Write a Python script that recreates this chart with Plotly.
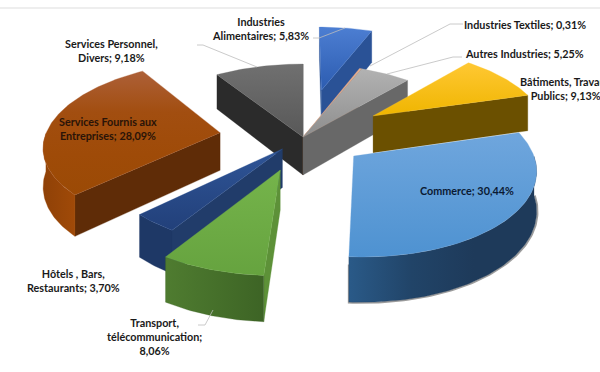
import numpy as np
import plotly.graph_objects as go

# Data, clockwise from 12 o'clock
categories = ["Industries Alimentaires", "Industries Textiles", "Autres Industries",
              "Bâtiments, Travaux Publics", "Commerce", "Transport, télécommunication",
              "Hôtels , Bars, Restaurants", "Services Fournis aux Entreprises",
              "Services Personnel, Divers"]
values = [5.83, 0.31, 5.25, 9.13, 30.44, 8.06, 3.70, 28.09, 9.18]
pull = [109, 0, 0, 86, 63, 70, 32, 84, 0]

# Styles: top gradient (near ... far), arc side (left ... right), cut side colour
top_colors = [("#2c5cb0", "#4c7ed2"), ("#d99a78", "#e6ae8e"), ("#8e8e8e", "#b2b2b2"),
              ("#efb500", "#ffc833"), ("#4e92d1", "#6fa6dd"), ("#66a33f", "#75b44b"),
              ("#22407a", "#2f5597"), ("#9b4a05", "#9f4b08", "#a24e10", "#ad6038"),
              ("#585858", "#707070")]
arc_colors = [("#2a4f90", "#2a4f90"), ("#b06a40", "#b06a40"), ("#5f5f5f", "#6a6a6a"),
              ("#6b5000", "#6b5000"), ("#2a5a88", "#214468", "#1e3a5a", "#1e3a5a"),
              ("#4f7c30", "#3d6425"), ("#1e3866", "#1e3866"), ("#8f4107", "#a04a08"),
              ("#2e2e2e", "#333333")]
cut_colors = ["#2a5296", "#a05a30", "#686868", "#6b5000", "#1f3c5e", "#5d9138",
              "#213c6a", "#5f2c07", "#2b2b2b"]
draw_order = [0, 8, 1, 2, 3, 7, 6, 5, 4]
shadowed = [4]

# View model of the tilted, exploded pie
CX, CY, R, D, TILT, H = 303, 137, 175, 1347, 0.471, 38


def project(x, y, lift=0.0):
    s = D / (D + y)
    return CX + x * s, CY - TILT * y * s + lift * s


edges = 360 * np.cumsum([0] + values) / sum(values)
fig = go.Figure()

# Pale rule along the top of the picture
fig.add_shape(type="line", xref="paper", yref="y", x0=0, x1=1, y0=8, y1=8,
              line=dict(color="#e8e8e8", width=1.5))


def add_poly(xs, ys, color=None, grad=None, orient="vertical"):
    kw = {}
    if grad:
        stops = np.linspace(0, 1, len(grad))
        kw["fillgradient"] = dict(type=orient, colorscale=[[float(s), c] for s, c in zip(stops, grad)])
    else:
        kw["fillcolor"] = color
    fig.add_trace(go.Scatter(x=list(xs) + [xs[0]], y=list(ys) + [ys[0]], mode="lines",
                             fill="toself", line=dict(width=0.3, color=color or grad[-1]),
                             hoverinfo="skip", showlegend=False, **kw))


for i in draw_order:
    a0, a1 = np.radians(edges[i]), np.radians(edges[i + 1])
    mid = (a0 + a1) / 2
    tx, ty = pull[i] * np.sin(mid), pull[i] * np.cos(mid)
    th = np.linspace(a0, a1, max(6, int(np.degrees(a1 - a0))))
    ax, ay = tx + R * np.sin(th), ty + R * np.cos(th)

    # soft edge under the slice
    if i in shadowed:
        sel = np.cos(th) < 0
        sx, sy = (tx + (R + 0.8) * np.sin(th))[sel], (ty + (R + 0.8) * np.cos(th))[sel]
        sp = [project(x, y, H) for x, y in zip(sx, sy)]
        sp.append((sp[-1][0], sp[-1][1] - H))
        fig.add_trace(go.Scatter(x=[q[0] for q in sp], y=[q[1] for q in sp], mode="lines",
                                 line=dict(color="rgba(105,105,105,0.65)", width=2),
                                 hoverinfo="skip", showlegend=False))

    # cut faces facing the viewer
    if np.cos(a0 - np.pi / 2) < 0.05:
        xs = [tx, ax[0], ax[0], tx]
        ys = [ty, ay[0], ay[0], ty]
        p = [project(x, y, l) for x, y, l in zip(xs, ys, [0, 0, H, H])]
        add_poly([q[0] for q in p], [q[1] for q in p], color=cut_colors[i])
    if np.cos(a1 + np.pi / 2) < 0.05:
        xs = [tx, ax[-1], ax[-1], tx]
        ys = [ty, ay[-1], ay[-1], ty]
        p = [project(x, y, l) for x, y, l in zip(xs, ys, [0, 0, H, H])]
        add_poly([q[0] for q in p], [q[1] for q in p], color=cut_colors[i])

    # outer arc face, front half only
    front = np.cos(th) < 0
    if front.sum() > 1:
        fx, fy = ax[front], ay[front]
        up = [project(x, y) for x, y in zip(fx, fy)]
        dn = [project(x, y, H) for x, y in zip(fx, fy)]
        poly = up + dn[::-1]
        add_poly([q[0] for q in poly], [q[1] for q in poly], grad=arc_colors[i],
                 orient="horizontal")

    # top face
    top = [project(tx, ty)] + [project(x, y) for x, y in zip(ax, ay)]
    add_poly([q[0] for q in top], [q[1] for q in top], grad=top_colors[i])

# Leader lines
leaders = [
    ([463, 450, 370], [24, 24, 66]),
    ([462, 453, 387], [57, 57, 74]),
    ([313, 319, 345], [38, 38, 28]),
    ([197, 203, 257], [45, 45, 67]),
    ([198, 205, 213], [325, 325, 310]),
]
for lx, ly in leaders:
    fig.add_trace(go.Scatter(x=lx, y=ly, mode="lines", line=dict(color="#bdbdbd", width=0.8),
                             hoverinfo="skip", showlegend=False))

# Labels
labels = [
    ("Industries<br>Alimentaires; 5,83%", 260, 28, "#1a1a1a"),
    ("Industries Textiles; 0,31%", 525, 24, "#1a1a1a"),
    ("Autres Industries; 5,25%", 524, 53, "#1a1a1a"),
    ("Bâtiments, Travaux<br>Publics; 9,13%", 566, 88, "#1a1a1a"),
    ("Commerce; 30,44%", 467, 190, "#0b1a33"),
    ("Transport,<br>télécommunication;<br>8,06%", 154, 336, "#1a1a1a"),
    ("Hôtels , Bars,<br>Restaurants; 3,70%", 73, 280, "#1a1a1a"),
    ("Services Fournis aux<br>Entreprises; 28,09%", 108, 128, "#2a1408"),
    ("Services Personnel,<br>Divers; 9,18%", 111, 50, "#1a1a1a"),
]
for text, x, y, col in labels:
    fig.add_annotation(x=x, y=y, text=f"<b>{text}</b>", showarrow=False, xanchor="center",
                       yanchor="middle", align="center",
                       font=dict(family="Lato", size=10.8, color=col))

fig.update_layout(
    width=600, height=372, margin=dict(l=0, r=0, t=0, b=0),
    paper_bgcolor="white", plot_bgcolor="white", showlegend=False,
    xaxis=dict(range=[0, 600], visible=False, fixedrange=True),
    yaxis=dict(range=[372, 0], visible=False, fixedrange=True),
)
fig.write_html("out.html", config={"displayModeBar": False},
               post_script="document.body.style.margin='0';document.documentElement.style.overflow='hidden';")
